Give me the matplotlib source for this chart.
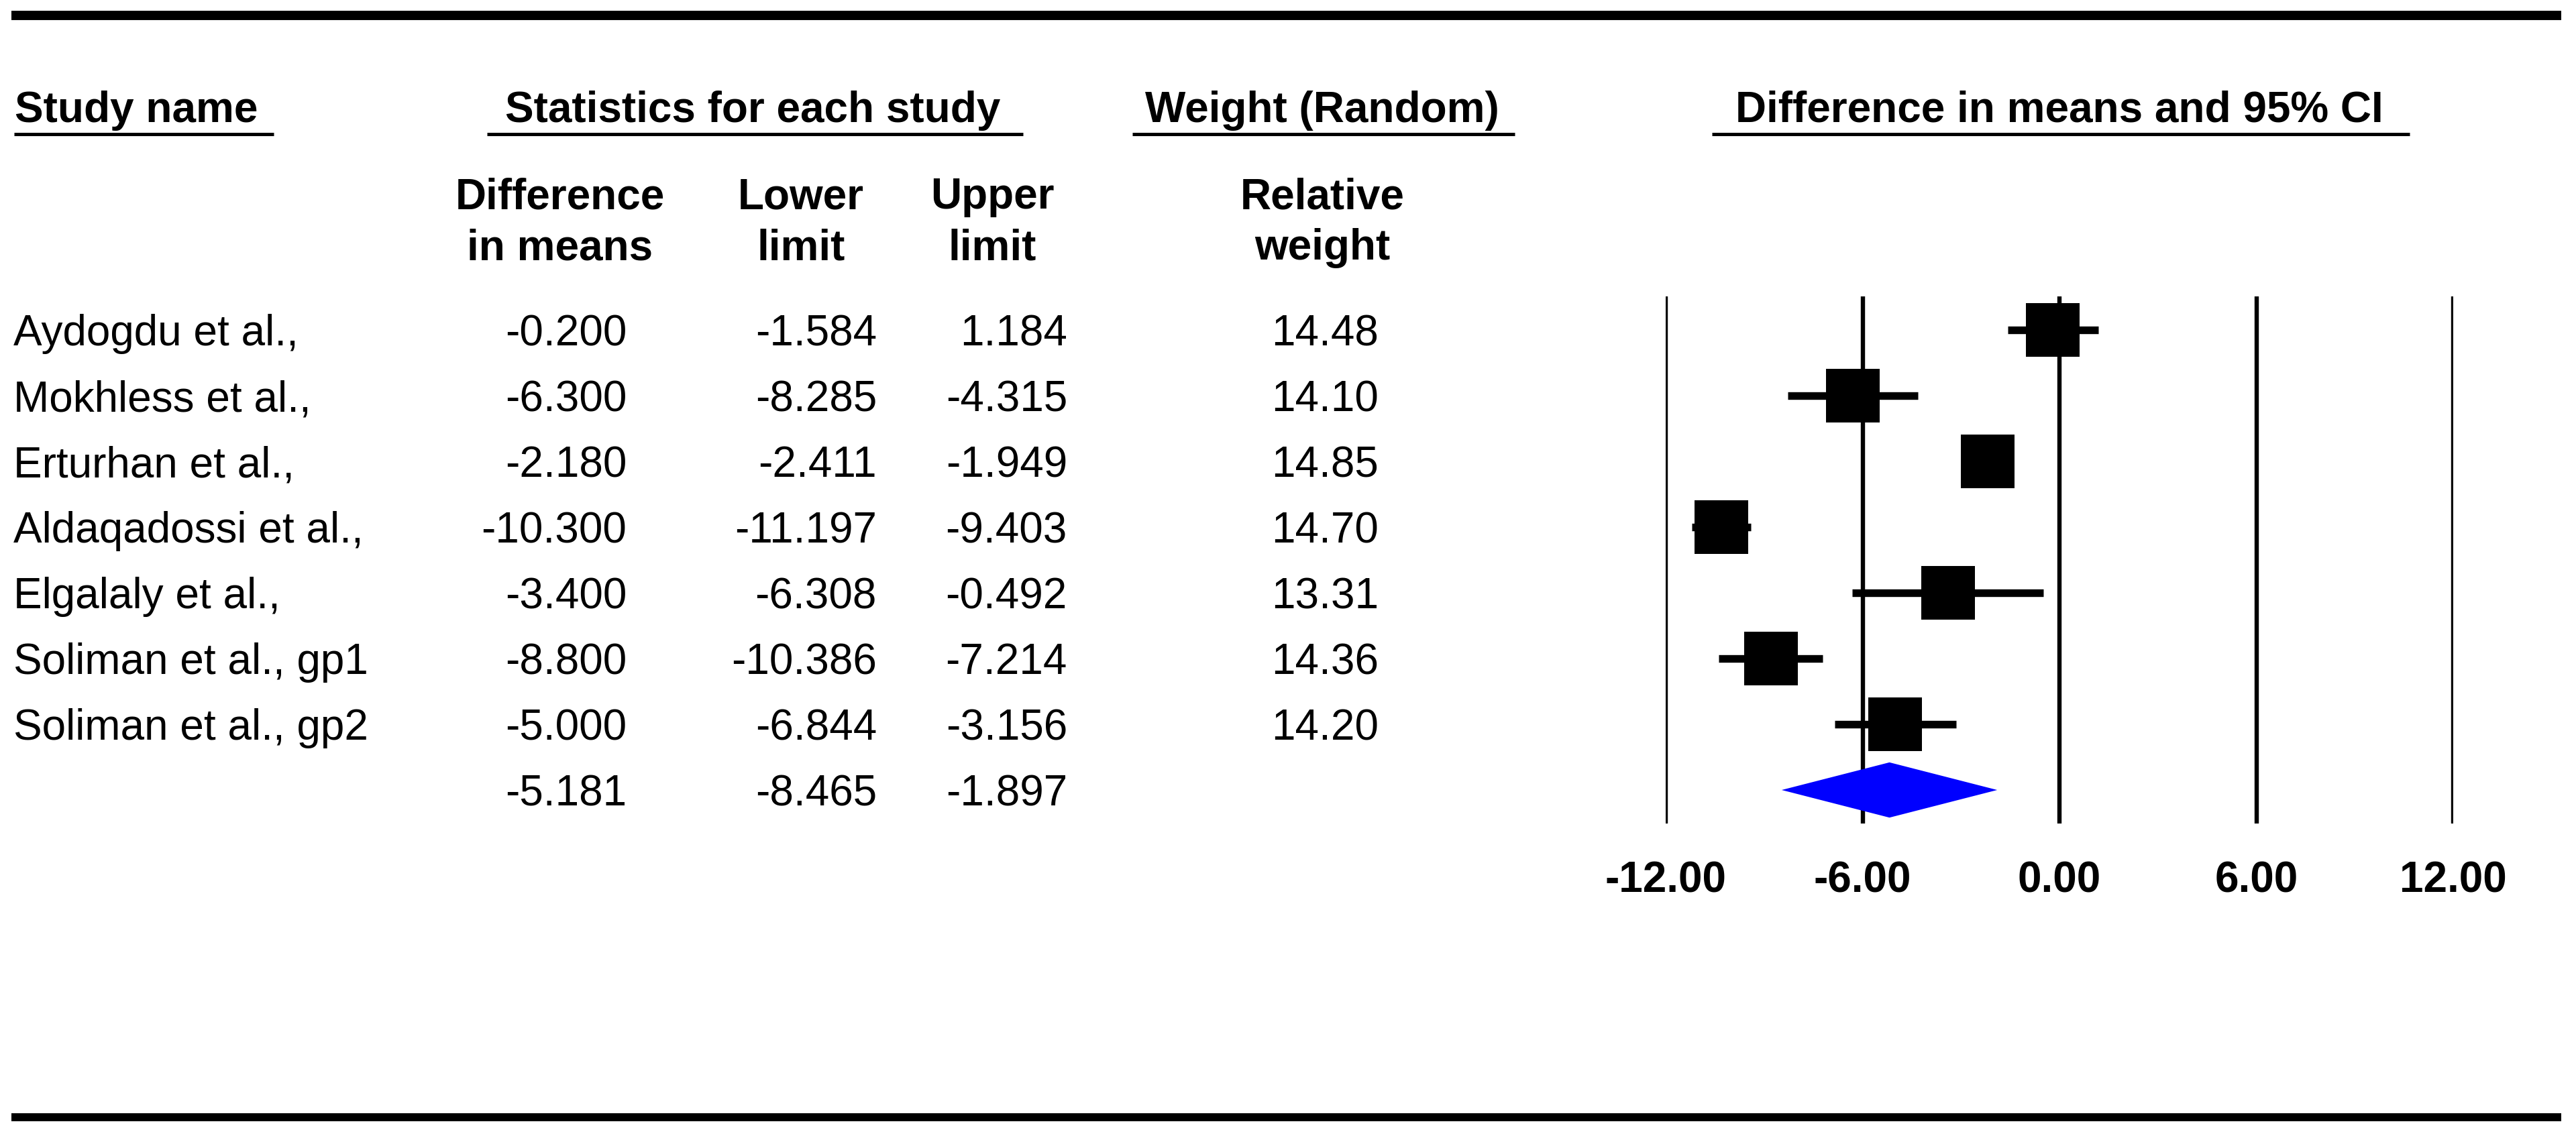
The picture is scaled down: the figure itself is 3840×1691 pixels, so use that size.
import matplotlib
matplotlib.use("Agg")
import matplotlib.pyplot as plt

plt.rcParams['font.family'] = ['Liberation Sans', 'DejaVu Sans']

# ---------------- data ----------------
studies = ["Aydogdu et al.,", "Mokhless et al.,", "Erturhan et al.,",
           "Aldaqadossi et al.,", "Elgalaly et al.,", "Soliman et al., gp1",
           "Soliman et al., gp2"]
diff = [-0.200, -6.300, -2.180, -10.300, -3.400, -8.800, -5.000]
lower = [-1.584, -8.285, -2.411, -11.197, -6.308, -10.386, -6.844]
upper = [1.184, -4.315, -1.949, -9.403, -0.492, -7.214, -3.156]
weights = [14.48, 14.10, 14.85, 14.70, 13.31, 14.36, 14.20]
pooled = [-5.181, -8.465, -1.897]
xticks = [-12, -6, 0, 6, 12]

W, H = 3840, 1691
FS = 46  # ~64 px
fig = plt.figure(figsize=(W / 100, H / 100), dpi=100)
fig.patch.set_facecolor("white")

# overlay axes in pixel coordinates for table text
ax0 = fig.add_axes([0, 0, 1, 1])
ax0.set_xlim(0, W)
ax0.set_ylim(H, 0)
ax0.axis("off")

# frame bars
ax0.plot([17, 3818], [23, 23], color="black", lw=10, solid_capstyle="butt")
ax0.plot([17, 3818], [1666, 1666], color="black", lw=8.6, solid_capstyle="butt")

# group headers
hdr_base = 182
ax0.text(22, hdr_base, "Study name", fontsize=FS, fontweight="bold", ha="left", va="baseline")
ax0.text(1122, hdr_base, "Statistics for each study", fontsize=FS, fontweight="bold", ha="center", va="baseline")
ax0.text(1971, hdr_base, "Weight (Random)", fontsize=FS, fontweight="bold", ha="center", va="baseline")
ax0.text(3070, hdr_base, "Difference in means and 95% CI", fontsize=FS, fontweight="bold", ha="center", va="baseline")
for x0, x1 in [(21, 408), (726, 1525), (1688, 2258), (2552, 3592)]:
    ax0.plot([x0, x1], [200, 200], color="black", lw=3.6, solid_capstyle="butt")

# sub headers
sub = [(835, "Difference", "in means"), (1194, "Lower", "limit"),
       (1479, "Upper", "limit"), (1971, "Relative", "weight")]
for x, l1, l2 in sub:
    ax0.text(x, 311, l1, fontsize=FS, fontweight="bold", ha="center", va="baseline")
    ax0.text(x, 387, l2, fontsize=FS, fontweight="bold", ha="center", va="baseline")

# rows
row0, dy = 515, 98
for i, name in enumerate(studies):
    yb = row0 + dy * i
    ax0.text(20, yb, name, fontsize=FS, ha="left", va="baseline")
    ax0.text(934, yb, f"{diff[i]:.3f}", fontsize=FS, ha="right", va="baseline")
    ax0.text(1307, yb, f"{lower[i]:.3f}", fontsize=FS, ha="right", va="baseline")
    ax0.text(1591, yb, f"{upper[i]:.3f}", fontsize=FS, ha="right", va="baseline")
    ax0.text(1975, yb, f"{weights[i]:.2f}", fontsize=FS, ha="center", va="baseline")
yb = row0 + dy * len(studies)
ax0.text(934, yb, f"{pooled[0]:.3f}", fontsize=FS, ha="right", va="baseline")
ax0.text(1307, yb, f"{pooled[1]:.3f}", fontsize=FS, ha="right", va="baseline")
ax0.text(1591, yb, f"{pooled[2]:.3f}", fontsize=FS, ha="right", va="baseline")

# ---------------- forest plot ----------------
px0, px1 = 2483, 3657
py0, py1 = 442, 1228
ax = fig.add_axes([px0 / W, 1 - py1 / H, (px1 - px0) / W, (py1 - py0) / H])
ax.set_xlim(-12, 12)
ax.set_ylim(7.51, -0.51)
for s in ax.spines.values():
    s.set_visible(False)
ax.set_yticks([])
ax.set_xticks(xticks)
ax.set_xticklabels([f"{t:.2f}" for t in xticks], fontsize=FS, fontweight="bold")
ax.tick_params(axis="x", length=0, pad=40)
ax.patch.set_alpha(0)

for t in xticks:
    ax.axvline(t, color="black", lw=4.6, zorder=1)

ys = list(range(len(studies)))
ax.hlines(ys, lower, upper, color="black", lw=8.2, zorder=2, capstyle="butt")
ax.scatter(diff, ys, marker="s", s=57.6 ** 2, color="black", linewidths=0, zorder=3, clip_on=False)

yp = len(studies)
hh = 0.42
ax.fill([pooled[1], pooled[0], pooled[2], pooled[0]],
        [yp, yp - hh, yp, yp + hh], color="#0000FF", zorder=4, clip_on=False, lw=0)

fig.savefig("out.png", dpi=100, facecolor="white")
